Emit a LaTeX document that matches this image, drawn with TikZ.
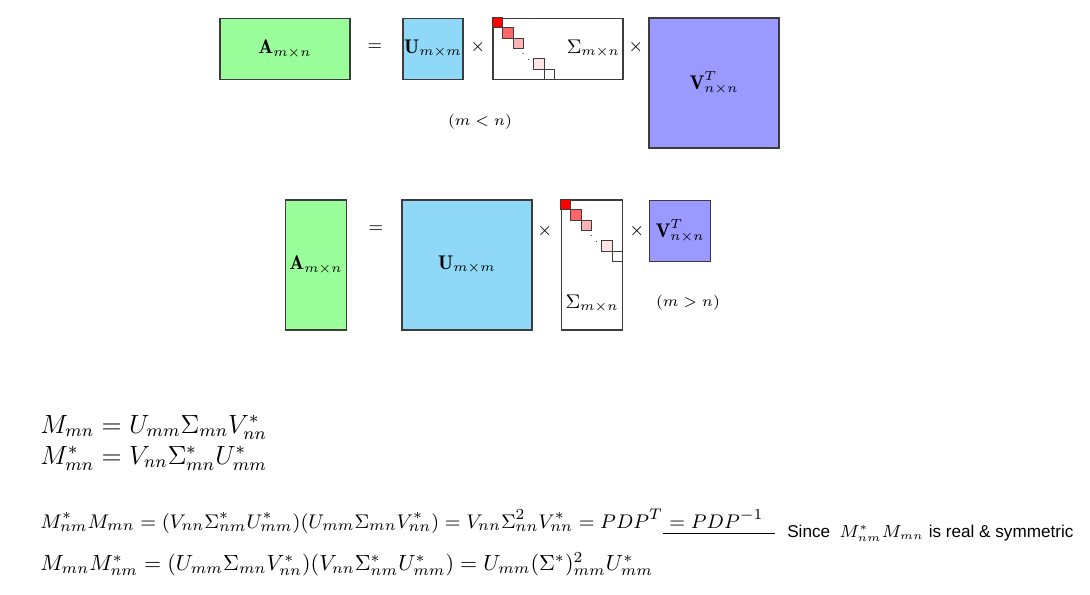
\documentclass[tikz,border=0pt]{standalone}
\usepackage{fontspec}
\usepackage{amsmath}
\usepackage{tikz}
\usetikzlibrary{positioning}
\newfontfamily\notefont{Liberation Sans}
\definecolor{svdGreen}{HTML}{9AFF9A}
\definecolor{svdBlue}{HTML}{8FD8F7}
\definecolor{svdViolet}{HTML}{9999FF}
\definecolor{svdEdge}{HTML}{3C3C3C}
\tikzset{
  mat/.style={rectangle, draw=svdEdge, line width=0.5pt, inner sep=0pt, align=center, font=\fontsize{9}{11}\selectfont},
  matlbl/.style={inner sep=0pt, font=\fontsize{9}{11}\selectfont},
  bigmat/.style={mat, minimum width=2.08cm, minimum height=2.08cm},
  widemat/.style={mat, minimum width=2.08cm, minimum height=0.99cm},
  tallmat/.style={mat, minimum width=0.99cm, minimum height=2.08cm},
  smallmat/.style={mat, minimum width=0.99cm, minimum height=0.99cm},
  sq/.style={rectangle, draw=svdEdge, line width=0.4pt, inner sep=0pt, outer sep=0pt, minimum size=0.165cm},
  dotsq/.style={rectangle, inner sep=0pt, outer sep=0pt, minimum size=0.165cm},
  dotlbl/.style={inner sep=0pt, font=\fontsize{4}{4}\selectfont},
  op/.style={inner sep=0pt, font=\fontsize{8.5}{10}\selectfont},
  cond/.style={inner sep=0pt, font=\fontsize{7.5}{9}\selectfont},
  eqn/.style={inner sep=0pt, anchor=base west, font=\fontsize{12}{14}\selectfont},
  prod/.style={inner sep=0pt, anchor=base west, font=\fontsize{9.3}{11}\selectfont},
  note/.style={inner ysep=0pt, inner xsep=5.4pt, anchor=west, font=\notefont\fontsize{7.8}{9}\selectfont},
  rule/.style={line width=0.5pt, draw=black}
}

\begin{document}
\begin{tikzpicture}[x=0.016cm, y=-0.016cm]
  \useasboundingbox (0,0) rectangle (1090,595);

  % m < n
  \node[widemat, fill=svdGreen] (a1) at (285,49) {$\mathbf{A}_{m\times n}$};
  \node[op] (eq1) at (375,47) {$=$};
  \node[mat, minimum width=0.96cm, minimum height=0.99cm, fill=svdBlue] (u1) at (433,49) {$\mathbf{U}_{m\times m}$};
  \node[op] (x1) at (478,47) {$\times$};
  \node[widemat, fill=white] (sig1) at (558,49) {};
  \node[matlbl, anchor=east, xshift=-1.5pt] at (sig1.east) {$\Sigma_{m\times n}$};
  \node[op] (x2) at (636,47) {$\times$};
  \node[bigmat, fill=svdViolet] (v1) at (714,83) {$\mathbf{V}^T_{n\times n}$};
  \node[cond] (c1) at (480,122) {$(m<n)$};

  \node[sq, fill=red, anchor=north west] (s11) at (sig1.north west) {};
  \node[sq, fill=red!60, below right=0pt and 0pt of s11] (s12) {};
  \node[sq, fill=red!30, below right=0pt and 0pt of s12] (s13) {};
  \node[dotsq, below right=0pt and 0pt of s13] (s14) {};
  \node[dotlbl] at (s14) {$\ddots$};
  \node[sq, fill=red!10, below right=0pt and 0pt of s14] (s15) {};
  \node[sq, fill=white, below right=0pt and 0pt of s15] (s16) {};

  % m > n
  \node[tallmat, fill=svdGreen] (a2) at (316,265) {$\mathbf{A}_{m\times n}$};
  \node[op] (eq2) at (376,229) {$=$};
  \node[bigmat, fill=svdBlue] (u2) at (467,265) {$\mathbf{U}_{m\times m}$};
  \node[op] (x3) at (545,231) {$\times$};
  \node[tallmat, fill=white] (sig2) at (592,265) {};
  \node[matlbl] at (592,304) {$\Sigma_{m\times n}$};
  \node[op] (x4) at (637,231) {$\times$};
  \node[smallmat, fill=svdViolet] (v2) at (680,231) {$\mathbf{V}^T_{n\times n}$};
  \node[cond] (c2) at (688,303) {$(m>n)$};

  \node[sq, fill=red, anchor=north west] (s21) at (sig2.north west) {};
  \node[sq, fill=red!60, below right=0pt and 0pt of s21] (s22) {};
  \node[sq, fill=red!30, below right=0pt and 0pt of s22] (s23) {};
  \node[dotsq, below right=0pt and 0pt of s23] (s24) {};
  \node[dotlbl] at (s24) {$\ddots$};
  \node[sq, fill=red!10, below right=0pt and 0pt of s24] (s25) {};
  \node[sq, fill=white, below right=0pt and 0pt of s25] (s26) {};

  % equations
  \node[eqn] (m1) at (40,433) {$M_{mn} = U_{mm}\Sigma_{mn}V^*_{nn}$};
  \node[eqn] (m2) at (40,464) {$M^*_{mn} = V_{nn}\Sigma^*_{mn}U^*_{mm}$};
  \node[prod] (m3) at (40,528) {$M^*_{nm}M_{mn} = (V_{nn}\Sigma^*_{nm}U^*_{mm})(U_{mm}\Sigma_{mn}V^*_{nn}) = V_{nn}\Sigma^2_{nn}V^*_{nn} = PDP^T$};
  \node[prod, inner ysep=2.3pt] (inv) at (m3.base east) {${}=PDP^{-1}$};
  \node[note] (since) at (775,533) {Since\ \ $M^*_{nm}M_{mn}$ is real \& symmetric};
  \node[prod, font=\fontsize{10.2}{12}\selectfont] (m4) at (40,570) {$M_{mn}M^*_{nm} = (U_{mm}\Sigma_{mn}V^*_{nn})(V_{nn}\Sigma^*_{nm}U^*_{mm}) = U_{mm}(\Sigma^*)^2_{mm}U^*_{mm}$};

  \draw[rule] (inv.south west) -- (inv.south west -| since.west);
\end{tikzpicture}
\end{document}
